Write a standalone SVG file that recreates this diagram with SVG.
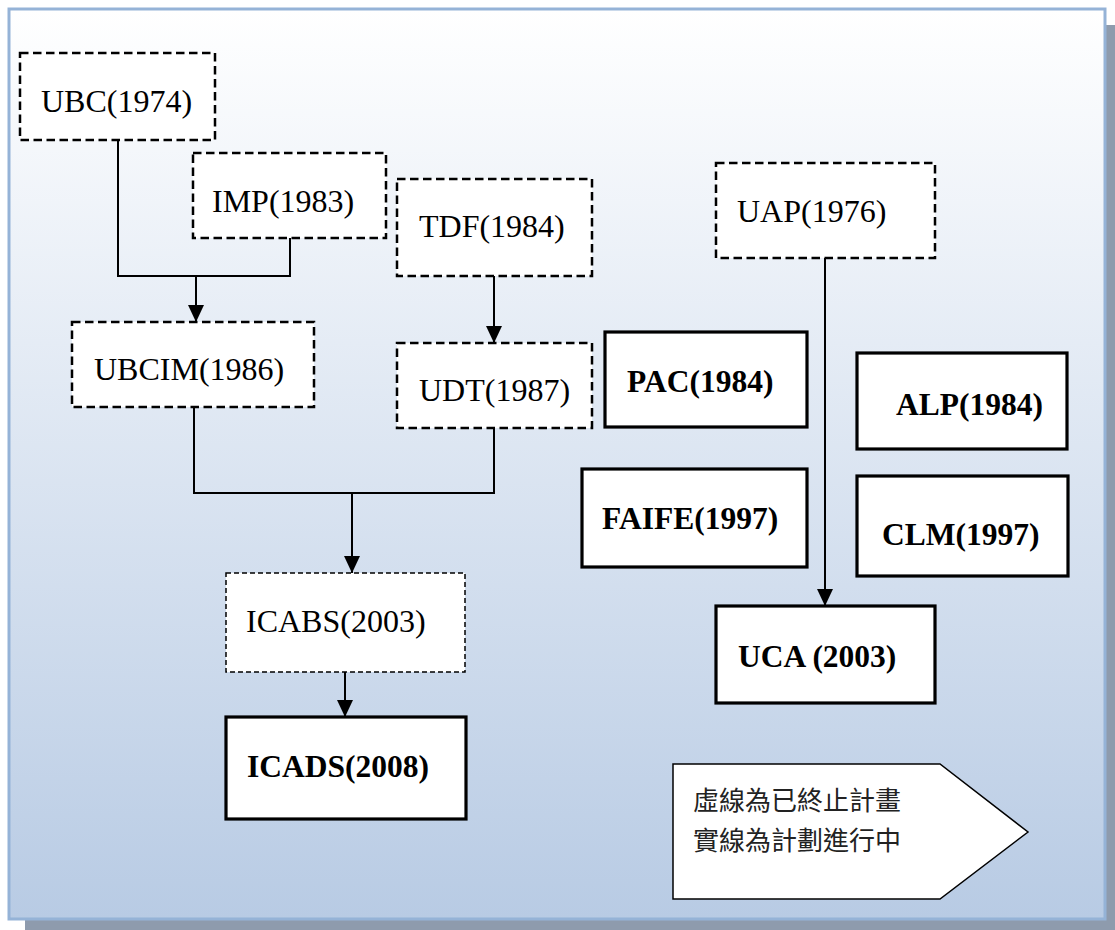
<svg xmlns="http://www.w3.org/2000/svg" width="1115" height="930" viewBox="0 0 1115 930">
<defs>
<linearGradient id="bg" x1="0" y1="0" x2="0" y2="1">
<stop offset="0" stop-color="#ffffff"/>
<stop offset="1" stop-color="#b8cbe4"/>
</linearGradient>
<marker id="arr" markerWidth="18" markerHeight="18" viewBox="0 0 18 18" refX="17" refY="9" orient="auto" markerUnits="userSpaceOnUse">
<path d="M0,1 L17,9 L0,17 Z" fill="#000"/>
</marker>
<style>
.dash{fill:#fff;stroke:#000;stroke-width:2.5;stroke-dasharray:8.5 4.5}
.dashthin{fill:#fff;stroke:#000;stroke-width:1.5;stroke-dasharray:5 3}
.solid{fill:#fff;stroke:#000;stroke-width:3.2}
.t{font-family:"Liberation Serif","Times New Roman",serif;font-size:32px;fill:#000}
.tb{font-family:"Liberation Serif","Times New Roman",serif;font-size:31.5px;font-weight:bold;fill:#000}
.cj{font-family:"Noto Sans CJK TC","Noto Sans CJK SC",sans-serif;font-size:26px;fill:#222}
.ln{fill:none;stroke:#000;stroke-width:2}
</style>
</defs>
<rect x="25" y="25" width="1090" height="905" fill="#8e9bad"/>
<rect x="9" y="9" width="1096" height="910" fill="url(#bg)" stroke="#95b3d7" stroke-width="3"/>

<g id="connectors">
<path class="ln" d="M118,140 V276 H290 V238"/>
<path class="ln" d="M196,276 V322" marker-end="url(#arr)"/>
<path class="ln" d="M494,276 V343" marker-end="url(#arr)"/>
<path class="ln" d="M194,407 V493 H494 V428"/>
<path class="ln" d="M352,493 V573" marker-end="url(#arr)"/>
<path class="ln" d="M345,672 V717" marker-end="url(#arr)"/>
<path class="ln" d="M825,258 V606" marker-end="url(#arr)"/>
</g>

<g id="UBC"><rect class="dash" x="20" y="53" width="195" height="87"/><text class="t" x="41" y="112">UBC(1974)</text></g>
<g id="IMP"><rect class="dash" x="193" y="153" width="193" height="85"/><text class="t" x="212" y="212">IMP(1983)</text></g>
<g id="TDF"><rect class="dash" x="397" y="179" width="195" height="97"/><text class="t" x="419" y="237">TDF(1984)</text></g>
<g id="UDT"><rect class="dash" x="397" y="343" width="195" height="85"/><text class="t" x="419" y="401">UDT(1987)</text></g>
<g id="UBCIM"><rect class="dash" x="72" y="322" width="242" height="85"/><text class="t" x="94" y="380">UBCIM(1986)</text></g>
<g id="ICABS"><rect class="dashthin" x="226" y="573" width="239" height="99"/><text class="t" x="246" y="632">ICABS(2003)</text></g>
<g id="ICADS"><rect class="solid" x="226" y="717" width="240" height="102"/><text class="tb" x="247" y="777">ICADS(2008)</text></g>
<g id="UAP"><rect class="dash" x="716" y="163" width="219" height="95"/><text class="t" x="737" y="222">UAP(1976)</text></g>
<g id="PAC"><rect class="solid" x="605" y="332" width="202" height="95"/><text class="tb" x="627" y="392">PAC(1984)</text></g>
<g id="ALP"><rect class="solid" x="857" y="353" width="210" height="96"/><text class="tb" x="896" y="415">ALP(1984)</text></g>
<g id="FAIFE"><rect class="solid" x="582" y="469" width="225" height="98"/><text class="tb" x="602" y="529">FAIFE(1997)</text></g>
<g id="CLM"><rect class="solid" x="857" y="476" width="211" height="100"/><text class="tb" x="882" y="545">CLM(1997)</text></g>
<g id="UCA"><rect class="solid" x="716" y="606" width="219" height="97"/><text class="tb" x="738" y="667">UCA (2003)</text></g>

<g id="legend">
<path d="M673,764 H940 L1028,832 L940,899 H673 Z" fill="#fff" stroke="#000" stroke-width="1.5"/>
<text class="cj" x="693" y="810">虛線為已終止計畫</text>
<text class="cj" x="693" y="850">實線為計劃進行中</text>
</g>
</svg>
